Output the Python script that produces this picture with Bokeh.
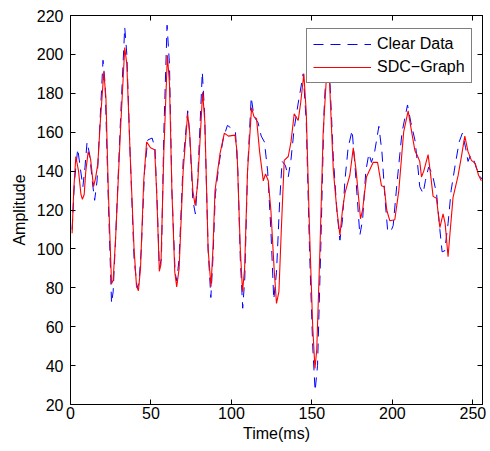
from bokeh.plotting import figure
from bokeh.models import Range1d, LinearAxis, Legend, LegendItem, FixedTicker
from bokeh.embed import file_html
from bokeh.resources import INLINE

# ---- data ----
t_clear = [1, 2.5, 4.5, 6, 7.7, 9, 10.3, 12, 13.5, 15, 16.5, 18, 20.2, 21.5, 23.5, 25.5, 26.5, 28, 31, 33.7,
           35, 37, 39.5, 41.4, 42.5, 44, 46, 48, 50.7, 52.5, 54, 55.2, 56.5, 58, 60, 61.5, 63, 65, 66, 67.5,
           70, 72.8, 74, 76, 77.6, 79, 81.9, 83.3, 85.5, 87.2, 88.5, 90, 92.5, 95, 97.5, 100, 102.5, 104, 105.5, 107,
           108.3, 110, 112.3, 114, 116.5, 118.5, 120.5, 122.5, 124.5, 126.3, 128, 130, 131.5, 133.5, 135.3, 137, 139, 141.5, 144.6, 146.5,
           148.5, 150.5, 152, 153.5, 155.5, 157.5, 159.5, 161, 163.3, 165.5, 167.4, 169, 170.5, 172.5, 175, 177, 179.8, 181.5, 183.5, 185.4,
           187, 189, 191.6, 193.5, 195.5, 197, 198.8, 200.5, 203, 206, 209.4, 211.5, 214, 215.5, 217, 219.1, 220.5, 222.5, 224, 225.5,
           227.5, 229.5, 230.9, 232.5, 234.6, 236.5, 239, 241.5, 243.5, 245.5, 247, 248.5, 250.1, 252, 254, 255.5]
v_clear = [110, 135, 151.5, 142, 132, 142, 155, 148, 135, 125, 135, 160, 197, 185, 125, 72, 78, 105, 165, 214,
           200, 150, 95, 80, 82, 100, 140, 156, 157, 152, 120, 90, 95, 160, 215, 195, 130, 88, 83.5, 95,
           145, 171, 160, 125, 118, 135, 191, 170, 100, 75, 95, 128, 145, 157, 163.5, 162, 160, 140, 95, 69.5,
           85, 140, 178, 168, 165, 158, 155, 140, 110, 74, 88, 125, 145, 143, 137, 146, 162, 175, 190, 165,
           100, 50, 27, 40, 100, 170, 203, 190, 147, 120, 104.5, 115, 135, 152, 161, 140, 107, 115, 140, 149,
           144.5, 150, 163, 150, 125, 110, 108.5, 112, 135, 160, 174, 165, 156, 145, 132, 128.5, 135, 142, 140, 136,
           128, 110, 98.5, 99, 113, 130, 143, 155, 159.5, 152, 145, 148, 147, 142, 138, 136]

t_sdc = [1, 2, 3.3, 5, 6.5, 7.4, 8.5, 9.5, 11, 12.5, 14.3, 15.5, 17, 18.5, 20.7, 22, 23.5, 25.5, 26.5, 28,
         31, 33.7, 35, 37, 39.5, 41, 42.2, 43.5, 45.5, 47.3, 49.7, 52.3, 53.5, 55.2, 56.2, 58, 60.2, 61.5, 63, 64.8,
         66, 67.5, 70, 72.8, 74, 76, 77.4, 79, 82.1, 83.5, 85.5, 87.3, 88.5, 89.8, 92.9, 95.6, 98.1, 102.2, 103.5, 105.5,
         106.9, 108.2, 110, 112.5, 114, 115.6, 117.5, 119.8, 121.2, 122.9, 124.5, 126.5, 128, 129.5, 131, 132.8, 135.3, 137, 139, 141.5,
         143, 145, 146.5, 148.5, 150.5, 151.9, 153, 155, 157, 159.5, 161, 163.3, 165.5, 167.4, 169, 170.5, 173.6, 175.7, 177.5, 180.2,
         181.5, 183.9, 188.1, 190.8, 193.2, 194.9, 196.5, 198.4, 201.5, 204, 207, 209.8, 212, 214, 215.5, 217, 218.1, 219.5, 222.2, 223.5,
         225.3, 227.4, 229.5, 231.5, 232.8, 234.6, 236, 237.7, 240.8, 243, 245, 247, 249.1, 251.5, 253.5, 255.3]
v_sdc = [108, 130, 147.5, 140, 128, 125.5, 128, 140, 150, 146, 132, 136, 144, 165, 191, 178, 130, 82, 84, 105,
         160, 203.5, 195, 150, 100, 81, 78.5, 90, 135, 155, 152, 151, 130, 88.5, 92, 150, 199.5, 185, 130, 88,
         80.5, 90, 140, 169.5, 160, 130, 122.5, 133, 180.5, 165, 100, 80.5, 100, 130, 149, 159.5, 158, 158.5, 150, 100,
         78, 90, 140, 172.5, 168, 167, 150, 135, 138.5, 135, 120, 90, 72, 78, 110, 145.5, 147.5, 155, 169.5, 166,
         175, 190, 170, 110, 60, 38.5, 48, 100, 160, 195, 185, 140.5, 120, 107, 120, 128.5, 138, 152, 140, 115.5,
         120, 137, 144.5, 144.5, 132.5, 132, 120, 114.5, 115, 130, 160, 171, 160, 150.5, 148, 145, 137, 140, 148.5, 140,
         127, 126, 111, 118, 113, 96, 110, 126.5, 137.5, 148, 158, 150, 145.5, 144, 138, 135]

x_ticks = [0, 50, 100, 150, 200, 250]
y_ticks = [20, 40, 60, 80, 100, 120, 140, 160, 180, 200, 220]
labels = ["Clear Data", "SDC\u2212Graph"]

FONT = "Liberation Sans"

p = figure(width=490, height=451, output_backend="svg", toolbar_location=None,
           x_range=Range1d(0, 256), y_range=Range1d(20, 220),
           min_border_left=70, min_border_right=8, min_border_top=15, min_border_bottom=47)
p.background_fill_color = "white"
p.border_fill_color = "white"
p.grid.visible = False
p.outline_line_color = "black"
p.outline_line_width = 1

r1 = p.line(t_clear, v_clear, line_color="#0000ff", line_width=1, line_dash="10 7")
r2 = p.line(t_sdc, v_sdc, line_color="#ff0000", line_width=1.1)

def style(ax, ticks, show_labels=True):
    ax.ticker = FixedTicker(ticks=ticks)
    ax.major_tick_in = 5
    ax.major_tick_out = 0
    ax.minor_tick_line_color = None
    ax.axis_line_color = "black"
    ax.major_tick_line_color = "black"
    ax.major_label_text_font = FONT
    if show_labels:
        ax.major_label_text_font_size = "16px"
        ax.major_label_text_color = "black"
    else:
        ax.major_label_text_font_size = "1px"
        ax.major_label_text_color = None
        ax.major_label_standoff = 0

style(p.xaxis[0], x_ticks)
style(p.yaxis[0], y_ticks)
p.xaxis[0].major_label_standoff = 2
p.yaxis[0].major_label_standoff = 7
p.xaxis[0].axis_label = "Time(ms)"
p.yaxis[0].axis_label = "Amplitude"
for ax in (p.xaxis[0], p.yaxis[0]):
    ax.axis_label_text_font = FONT
    ax.axis_label_text_font_size = "16px"
    ax.axis_label_text_font_style = "normal"
    ax.axis_label_text_color = "black"
p.xaxis[0].axis_label_standoff = 3
p.yaxis[0].axis_label_standoff = 6

top = LinearAxis()
style(top, x_ticks, show_labels=False)
p.add_layout(top, "above")
right = LinearAxis()
style(right, y_ticks, show_labels=False)
p.add_layout(right, "right")

legend = Legend(items=[LegendItem(label=labels[0], renderers=[r1]),
                       LegendItem(label=labels[1], renderers=[r2])],
                location=(236, 321))
legend.label_text_font = FONT
legend.label_text_font_size = "16px"
legend.label_text_color = "black"
legend.border_line_color = "black"
legend.border_line_width = 1
legend.background_fill_color = "white"
legend.background_fill_alpha = 1
legend.padding = 6
legend.spacing = 5
legend.margin = 0
legend.glyph_width = 58
legend.glyph_height = 18
legend.label_height = 18
legend.label_standoff = 6
p.add_layout(legend)

open("out.html", "w").write(file_html(p, INLINE))
